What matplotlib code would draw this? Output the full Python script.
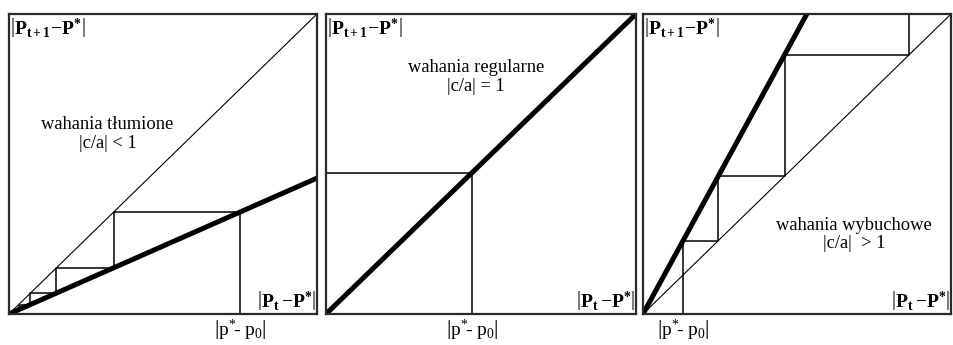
import matplotlib
matplotlib.use("Agg")
import matplotlib.pyplot as plt

plt.rcParams["font.family"] = "Liberation Serif"
plt.rcParams["mathtext.fontset"] = "custom"
plt.rcParams["mathtext.rm"] = "Liberation Serif"
plt.rcParams["mathtext.it"] = "Liberation Serif:italic"
plt.rcParams["mathtext.bf"] = "Liberation Serif:bold"

# slopes |c/a| of the response line in each regime
slopes = [0.453, 1.0, 1.88]
# successive deviations |p_t - p*| (cobweb iterates)
damped_steps = [0.75, 0.34, 0.153, 0.069, 0.031, 0.014, 0.0063]
regular_start = 0.47
explosive_steps = [0.13, 0.245, 0.46, 0.865, 1.63]

titles = ["wahania tłumione\n|c/a| < 1",
          "wahania regularne\n|c/a| = 1",
          "wahania wybuchowe\n|c/a|  > 1"]
title_pos = [(0.32, 0.60), (0.485, 0.79), (0.685, 0.265)]
p0_values = [damped_steps[0], regular_start, explosive_steps[0]]

y_label = r"$\left|\mathbf{P_{t+1}}\!-\!\mathbf{P^{*}}\right|$"
x_label = r"$\left|\mathbf{P_{t}}-\!\mathbf{P^{*}}\right|$"
p0_label = r"$\left|\mathrm{p^{*}\!\text{-}\ p_{0}}\right|$"

FRAME = "#2a2a2a"


def cobweb(steps):
    xs, ys = [steps[0]], [0.0]
    for a, b in zip(steps[:-1], steps[1:]):
        xs += [a, b]
        ys += [b, b]
    return xs, ys


fig = plt.figure(figsize=(9.54, 3.45), dpi=100)
lefts = [9 / 954, 326 / 954, 643 / 954]
widths = [308 / 954, 310 / 954, 308 / 954]
axes = [fig.add_axes([l, 31 / 345, w, 300 / 345]) for l, w in zip(lefts, widths)]

for i, ax in enumerate(axes):
    ax.set_xlim(0, 1)
    ax.set_ylim(0, 1)
    ax.set_xticks([])
    ax.set_yticks([])
    for sp in ax.spines.values():
        sp.set_linewidth(1.6)
        sp.set_color(FRAME)

    if i != 1:
        ax.plot([0, 1], [0, 1], color="black", lw=0.8)
    ax.plot([0, 1], [0, slopes[i]], color="black", lw=3.6, solid_capstyle="butt")

    if i == 0:
        xs, ys = cobweb(damped_steps)
        ax.plot(xs, ys, color="black", lw=1.1)
    elif i == 1:
        ax.plot([regular_start, regular_start], [0, regular_start], color="black", lw=1.1)
        ax.plot([0, regular_start], [regular_start, regular_start], color="black", lw=1.1)
    else:
        xs, ys = cobweb(explosive_steps)
        ax.plot(xs, ys, color="black", lw=1.1)

    tx, ty = title_pos[i]
    ax.text(tx, ty, titles[i], ha="center", va="center", fontsize=13.3,
            linespacing=1.1, transform=ax.transAxes)
    ax.text(0.003, 0.995, y_label, ha="left", va="top", fontsize=14,
            transform=ax.transAxes)
    ax.text(0.997, 0.008, x_label, ha="right", va="bottom", fontsize=14,
            transform=ax.transAxes)
    ax.text(p0_values[i], -0.012, p0_label, ha="center", va="top",
            fontsize=14, transform=ax.transAxes, clip_on=False)

fig.savefig("out.png", dpi=100, facecolor="white")
